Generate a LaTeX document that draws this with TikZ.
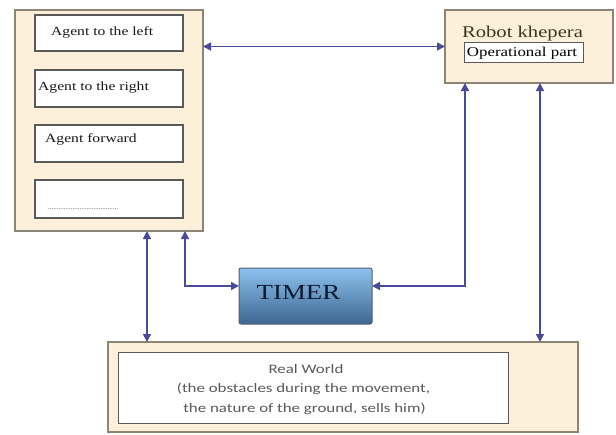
\documentclass[tikz,border=0pt]{standalone}
\usepackage{fontspec}
\setmainfont{Liberation Serif}
\newfontfamily\serifwide[FakeStretch=1.25]{Liberation Serif}
\newfontfamily\sanswide[FakeStretch=1.3]{Carlito}
\usetikzlibrary{arrows.meta}

\definecolor{panelfill}{HTML}{FCF0DA}
\definecolor{paneledge}{HTML}{8C8474}
\definecolor{boxedge}{HTML}{5A5A5A}
\definecolor{linkblue}{HTML}{4A4A9C}
\definecolor{robottext}{HTML}{40361C}
\definecolor{timertop}{HTML}{8EC2EE}
\definecolor{timerbot}{HTML}{3C6690}
\definecolor{timertext}{HTML}{0C1A32}
\definecolor{worldtext}{HTML}{5A5A5A}

\tikzset{
  panel/.style={draw=paneledge, fill=panelfill, line width=1.2pt, outer sep=0pt,
    inner sep=0pt, anchor=north west},
  agentbox/.style={draw=boxedge, fill=white, line width=1.1pt, outer sep=0pt,
    inner sep=0pt, anchor=north west, minimum width=148pt},
  agenttext/.style={anchor=base west, inner sep=0pt, font=\serifwide\fontsize{12.5}{14}\selectfont, text=black!90},
  link/.style={draw=linkblue, line width=1.6pt,
    {Triangle[length=8pt,width=8pt]}-{Triangle[length=8pt,width=8pt]}},
}

\begin{document}
\begin{tikzpicture}[x=1pt,y=-1pt]
\useasboundingbox (0,0) rectangle (616,434);

% agents panel
\node[panel, minimum width=188pt, minimum height=221pt] (agents) at (15,10) {};
\node[agentbox, minimum height=36pt] (a1) at (35,15) {};
\node[agentbox, minimum height=37pt] (a2) at (35,70) {};
\node[agentbox, minimum height=37pt] (a3) at (35,125) {};
\node[agentbox, minimum height=38pt] (a4) at (35,180) {};
\node[agenttext] (t1) at (51,35) {Agent to the left};
\node[agenttext] (t2) at (38,90) {Agent to the right};
\node[agenttext] (t3) at (45,142) {Agent forward};
\node[anchor=base west, inner sep=0pt, font=\fontsize{7}{8}\selectfont, text=black!70] (t4) at (48,209) {........................................};

% robot
\node[panel, minimum width=168pt, minimum height=73pt] (robot) at (445,10) {};
\node[anchor=base, inner sep=0pt, font=\serifwide\fontsize{16.5}{18}\selectfont, text=robottext] (rname) at (522.5,37) {Robot khepera};
\node[draw=boxedge, fill=white, line width=1pt, anchor=north west, inner sep=0pt,
  minimum width=119pt, minimum height=20pt] (oppart) at (464,42) {};
\node[anchor=base, inner sep=0pt, font=\serifwide\fontsize{13.5}{15}\selectfont] (optext) at (522,56.5) {Operational part};

% timer
\node[draw=timertext!70, line width=1pt, top color=timertop, bottom color=timerbot,
  rounded corners=2pt, anchor=north west, minimum width=133pt, minimum height=56pt,
  inner sep=0pt, outer sep=0pt] (timer) at (239,268) {};
\node[anchor=base, inner sep=0pt, font=\serifwide\fontsize{21.5}{24}\selectfont, text=timertext] (timerlabel) at (298.5,299) {TIMER};

% real world
\node[panel, minimum width=470pt, minimum height=90pt] (world) at (108,342) {};
\node[draw=boxedge, fill=white, line width=1.1pt, anchor=north west, inner sep=0pt,
  minimum width=390pt, minimum height=71pt] (worldin) at (118,352) {};
\node[anchor=base, inner sep=0pt, font=\sanswide\fontsize{13}{15}\selectfont, text=worldtext] (w1) at (306,373.5) {Real World};
\node[anchor=base, inner sep=0pt, font=\sanswide\fontsize{13}{15}\selectfont, text=worldtext] (w2) at (303.5,392.5) {(the obstacles during the movement,};
\node[anchor=base, inner sep=0pt, font=\sanswide\fontsize{13}{15}\selectfont, text=worldtext] (w3) at (304.5,412) {the nature of the ground, sells him)};

% connector columns
\coordinate (xl1) at (147,0);
\coordinate (xl2) at (185,0);
\coordinate (xr1) at (465,0);
\coordinate (xr2) at (540,0);

% connectors
\draw[link] (agents.east |- robot.west) -- (robot.west);
\draw[link] (agents.south -| xl1) -- (world.north -| xl1);
\draw[link] (agents.south -| xl2) |- ([yshift=10pt]timer.west);
\draw[link] (robot.south -| xr1) |- ([yshift=10pt]timer.east);
\draw[link] (robot.south -| xr2) -- (world.north -| xr2);
\end{tikzpicture}
\end{document}
